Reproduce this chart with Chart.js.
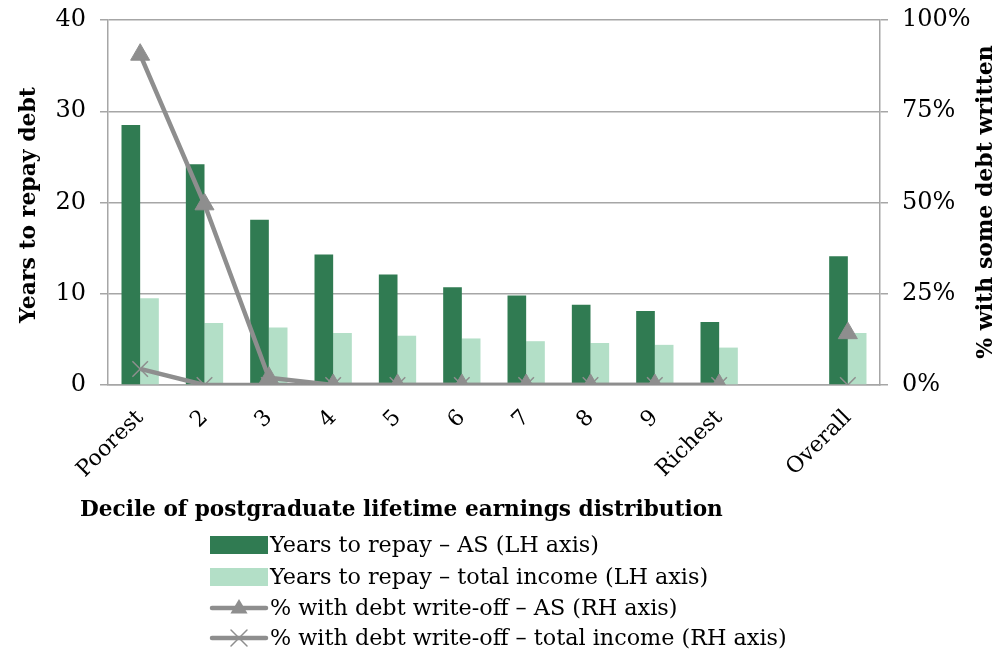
<!DOCTYPE html>
<html>
<head>
<meta charset="utf-8">
<script src="https://cdn.jsdelivr.net/npm/chart.js@4.4.0/dist/chart.umd.min.js"></script>
<style>
html,body{margin:0;padding:0;background:#fff;}
#wrap{width:1003px;height:652px;position:relative;}
</style>
</head>
<body>
<div id="wrap"><canvas id="c" width="1003" height="652"></canvas></div>
<script>
const categories = ['Poorest','2','3','4','5','6','7','8','9','Richest','','Overall'];
const yearsAS = [28.5, 24.2, 18.1, 14.3, 12.1, 10.7, 9.8, 8.8, 8.1, 6.9, null, 14.1];
const yearsTotal = [9.5, 6.8, 6.3, 5.7, 5.4, 5.1, 4.8, 4.6, 4.4, 4.1, null, 5.7];
const writeOffAS = [90.5, 49.5, 2, 0, 0, 0, 0, 0, 0, 0, null, 14.2];
const writeOffTotal = [4.4, 0, 0, 0, 0, 0, 0, 0, 0, 0, null, 0];
const leftTicks = [0, 10, 20, 30, 40];
const rightTicks = [0, 25, 50, 75, 100];
const seriesNames = [
  'Years to repay \u2013 AS (LH axis)',
  'Years to repay \u2013 total income (LH axis)',
  '% with debt write-off \u2013 AS (RH axis)',
  '% with debt write-off \u2013 total income (RH axis)'
];
const xTitle = 'Decile of postgraduate lifetime earnings distribution';
const yTitle = 'Years to repay debt';
const y1Title = '% with some debt written';

const FONT = '"DejaVu Serif", "Liberation Serif", serif';
const DARK = '#307b52', LIGHT = '#b3dfc7', GREY = '#8e8e8e', GRID = '#a6a6a6';

function fitSize(ctx, text, weight, target) {
  ctx.font = weight + ' 20px ' + FONT;
  const w = ctx.measureText(text).width;
  return 20 * target / w;
}

const extras = {
  id: 'extras',
  afterDraw(chart) {
    const ctx = chart.ctx;
    ctx.save();
    ctx.fillStyle = '#000';
    ctx.textAlign = 'center';
    ctx.textBaseline = 'middle';
    let s = fitSize(ctx, yTitle, 'bold', 236);
    ctx.font = 'bold ' + s + 'px ' + FONT;
    ctx.save(); ctx.translate(29, 205); ctx.rotate(-Math.PI/2); ctx.fillText(yTitle, 0, 0); ctx.restore();
    s = fitSize(ctx, y1Title, 'bold', 314);
    ctx.font = 'bold ' + s + 'px ' + FONT;
    ctx.save(); ctx.translate(986, 202); ctx.rotate(-Math.PI/2); ctx.fillText(y1Title, 0, 0); ctx.restore();
    ctx.textAlign = 'left';
    s = fitSize(ctx, xTitle, 'bold', 643);
    ctx.font = 'bold ' + s + 'px ' + FONT;
    ctx.fillText(xTitle, 80, 510);
    // legend
    s = fitSize(ctx, seriesNames[3], '', 517);
    ctx.font = s + 'px ' + FONT;
    const rows = [545, 577, 608, 638];
    const ds = chart.data.datasets;
    const order = [2, 3, 0, 1];
    for (let i = 0; i < 4; i++) {
      const d = ds[order[i]];
      const y = rows[i];
      if (d.type === 'bar') {
        ctx.fillStyle = d.backgroundColor;
        ctx.fillRect(210, y - 9, 58, 18);
      } else {
        ctx.strokeStyle = d.borderColor;
        ctx.lineWidth = 4.5;
        ctx.lineCap = 'round';
        ctx.beginPath(); ctx.moveTo(212, y); ctx.lineTo(266, y); ctx.stroke();
        ctx.fillStyle = d.pointBackgroundColor;
        ctx.strokeStyle = d.pointBorderColor;
        ctx.lineWidth = d.pointBorderWidth;
        ctx.beginPath();
        if (d.pointStyle === 'triangle') {
          const r = 9;
          ctx.moveTo(239, y - r); ctx.lineTo(239 + r*0.95, y + r*0.6); ctx.lineTo(239 - r*0.95, y + r*0.6); ctx.closePath(); ctx.fill();
        } else {
          const r = 8;
          ctx.moveTo(239 - r, y - r); ctx.lineTo(239 + r, y + r); ctx.moveTo(239 + r, y - r); ctx.lineTo(239 - r, y + r); ctx.stroke();
        }
      }
      ctx.fillStyle = '#000';
      ctx.fillText(d.label, 270, y + 1);
    }
    ctx.restore();
  }
};

function fixY(w) {
  return s => { s.width = w; s.paddingTop = 0; s.paddingBottom = 0; };
}

new Chart(document.getElementById('c'), {
  data: {
    labels: categories,
    datasets: [
      {type: 'line', label: seriesNames[2], data: writeOffAS, yAxisID: 'y1', borderColor: GREY, borderWidth: 4.5,
       pointStyle: 'triangle', pointRadius: 11, pointBackgroundColor: GREY, pointBorderColor: GREY, pointBorderWidth: 1,
       spanGaps: false, order: 0, fill: false, tension: 0},
      {type: 'line', label: seriesNames[3], data: writeOffTotal, yAxisID: 'y1', borderColor: GREY, borderWidth: 4.5,
       pointStyle: 'crossRot', pointRadius: 11, pointBackgroundColor: GREY, pointBorderColor: GREY, pointBorderWidth: 1.5,
       spanGaps: false, order: 1, fill: false, tension: 0},
      {type: 'bar', label: seriesNames[0], data: yearsAS, yAxisID: 'y', backgroundColor: DARK, order: 2,
       categoryPercentage: 0.58, barPercentage: 1},
      {type: 'bar', label: seriesNames[1], data: yearsTotal, yAxisID: 'y', backgroundColor: LIGHT, order: 3,
       categoryPercentage: 0.58, barPercentage: 1}
    ]
  },
  options: {
    responsive: false,
    animation: false,
    layout: {padding: {top: 20, left: 0, right: 0, bottom: 0}},
    plugins: {legend: {display: false}, tooltip: {enabled: false}},
    scales: {
      x: {
        offset: true,
        grid: {display: false},
        border: {display: true, color: GRID, width: 1.5},
        ticks: {color: '#000', font: {family: FONT, size: 22}, minRotation: 45, maxRotation: 45, autoSkip: false, padding: 12},
        afterFit: s => { s.height = 267; }
      },
      y: {
        position: 'left', min: 0, max: 40,
        afterBuildTicks: s => { s.ticks = leftTicks.map(v => ({value: v})); },
        grid: {color: GRID, lineWidth: 1.5, tickLength: 8, drawTicks: true},
        border: {display: true, color: GRID, width: 1.5},
        ticks: {color: '#000', font: {family: FONT, size: 24}, padding: 14},
        afterFit: fixY(108)
      },
      y1: {
        position: 'right', min: 0, max: 100,
        afterBuildTicks: s => { s.ticks = rightTicks.map(v => ({value: v})); },
        grid: {drawOnChartArea: false, color: GRID, lineWidth: 1.5, tickLength: 8},
        border: {display: true, color: GRID, width: 1.5},
        ticks: {color: '#000', font: {family: FONT, size: 24}, padding: 14, callback: v => v + '%'},
        afterFit: fixY(123)
      }
    }
  },
  plugins: [extras]
});
</script>
</body>
</html>
